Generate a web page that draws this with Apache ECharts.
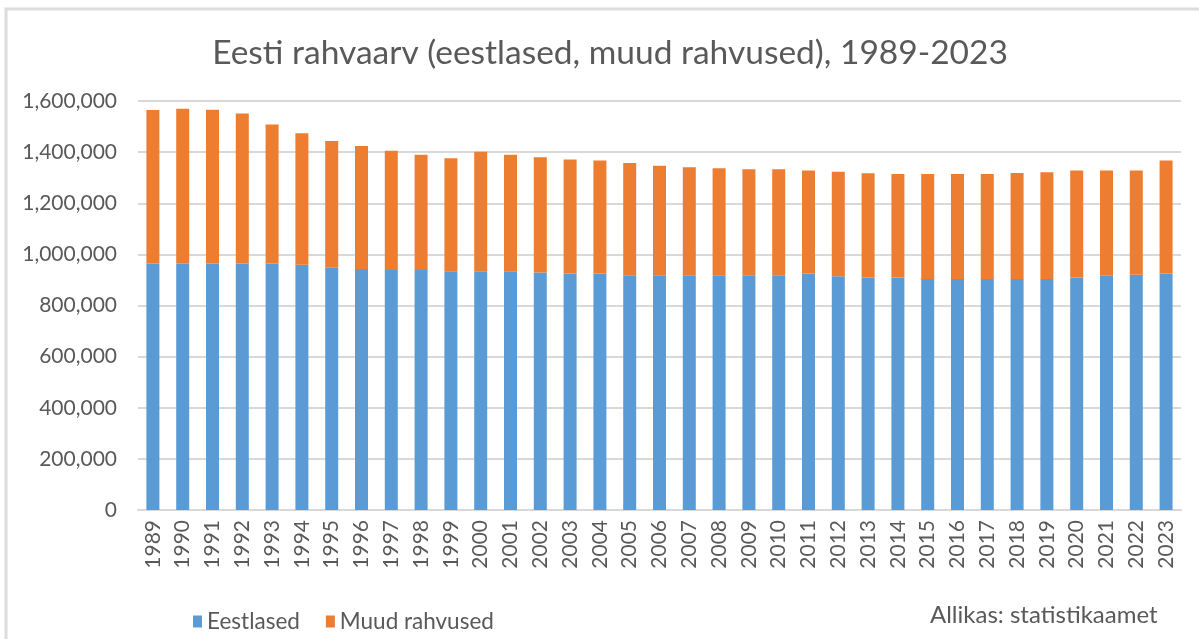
<!DOCTYPE html>
<html>
<head>
<meta charset="utf-8">
<title>Eesti rahvaarv</title>
<script src="https://cdn.jsdelivr.net/npm/echarts@6.0.0/dist/echarts.min.js"></script>
<style>
	html, body { margin: 0; padding: 0; background: #fff; }
	#map { width: 1199px; height: 639px; }
</style>
</head>
<body>
<div id="map"></div>
<script>
	// aastad
	var years = ['1989', '1990', '1991', '1992', '1993', '1994', '1995', '1996', '1997', '1998',
		'1999', '2000', '2001', '2002', '2003', '2004', '2005', '2006', '2007', '2008',
		'2009', '2010', '2011', '2012', '2013', '2014', '2015', '2016', '2017', '2018',
		'2019', '2020', '2021', '2022', '2023'];

	// eestlased
	var eestlased = [964000, 964000, 964000, 964000, 964000, 959000, 948000, 943000, 939000, 939000,
		934000, 934000, 934000, 929000, 925000, 925000, 918000, 918000, 918000, 918000,
		918000, 918000, 925000, 914000, 910000, 910000, 904000, 904000, 904000, 904000,
		904000, 910000, 916000, 920000, 925000];

	// muud rahvused
	var muud = [601000, 606000, 602000, 587000, 544000, 515000, 496000, 481000, 466000, 451000,
		442000, 467000, 456000, 451000, 446000, 442000, 439000, 429000, 423000, 419000,
		415000, 415000, 403000, 409000, 407000, 404000, 410000, 410000, 410000, 414000,
		417000, 418000, 412000, 408000, 442000];

	var yTicks = [0, 200000, 400000, 600000, 800000, 1000000, 1200000, 1400000, 1600000];

	var font = 'Lato';
	var gray = '#595959';

	var instance = echarts.init(document.getElementById('map'));

	var option = {
		backgroundColor: '#fff',
		animation: false,
		color: ['#5b9bd5', '#ed7d31'],
		title: {
			text: 'Eesti rahvaarv (eestlased, muud rahvused), 1989-2023',
			left: 605,
			textAlign: 'center',
			top: 31,
			textStyle: {
				fontFamily: font,
				fontSize: 33.5,
				fontWeight: 'normal',
				color: gray
			}
		},
		legend: {
			left: 188,
			top: 605,
			itemWidth: 9,
			itemHeight: 12,
			itemGap: 26,
			icon: 'rect',
			data: ['Eestlased', 'Muud rahvused'],
			textStyle: {
				fontFamily: font,
				fontSize: 22.5,
				color: gray
			}
		},
		graphic: [{
				type: 'rect',
				silent: true,
				shape: { x: 6, y: 9, width: 1400, height: 900 },
				style: { fill: 'none', stroke: '#dcdcdc', lineWidth: 3 }
			},
			{
				type: 'text',
				left: 930,
				top: 603,
				style: {
					text: 'Allikas: statistikaamet',
					fontFamily: font,
					fontSize: 24,
					fill: gray
				}
			}
		],
		grid: {
			left: 138,
			right: 18,
			top: 101,
			bottom: 129
		},
		xAxis: {
			type: 'category',
			data: years,
			axisTick: { show: false },
			axisLine: {
				lineStyle: { color: '#d9d9d9', width: 2 }
			},
			axisLabel: {
				rotate: 90,
				margin: 10,
				interval: 0,
				fontFamily: font,
				fontSize: 21,
				color: gray
			}
		},
		yAxis: {
			type: 'value',
			min: yTicks[0],
			max: yTicks[yTicks.length - 1],
			interval: 200000,
			axisLine: { show: false },
			axisTick: { show: false },
			splitLine: {
				lineStyle: { color: '#d9d9d9', width: 2 }
			},
			axisLabel: {
				margin: 21,
				fontFamily: font,
				fontSize: 21,
				color: gray,
				formatter: function (v) {
					return v.toLocaleString('en-US');
				}
			}
		},
		series: [{
				name: 'Eestlased',
				type: 'bar',
				stack: 'kokku',
				barWidth: 13,
				data: eestlased
			},
			{
				name: 'Muud rahvused',
				type: 'bar',
				stack: 'kokku',
				barWidth: 13,
				data: muud
			}
		]
	};

	instance.setOption(option);
</script>
</body>
</html>
